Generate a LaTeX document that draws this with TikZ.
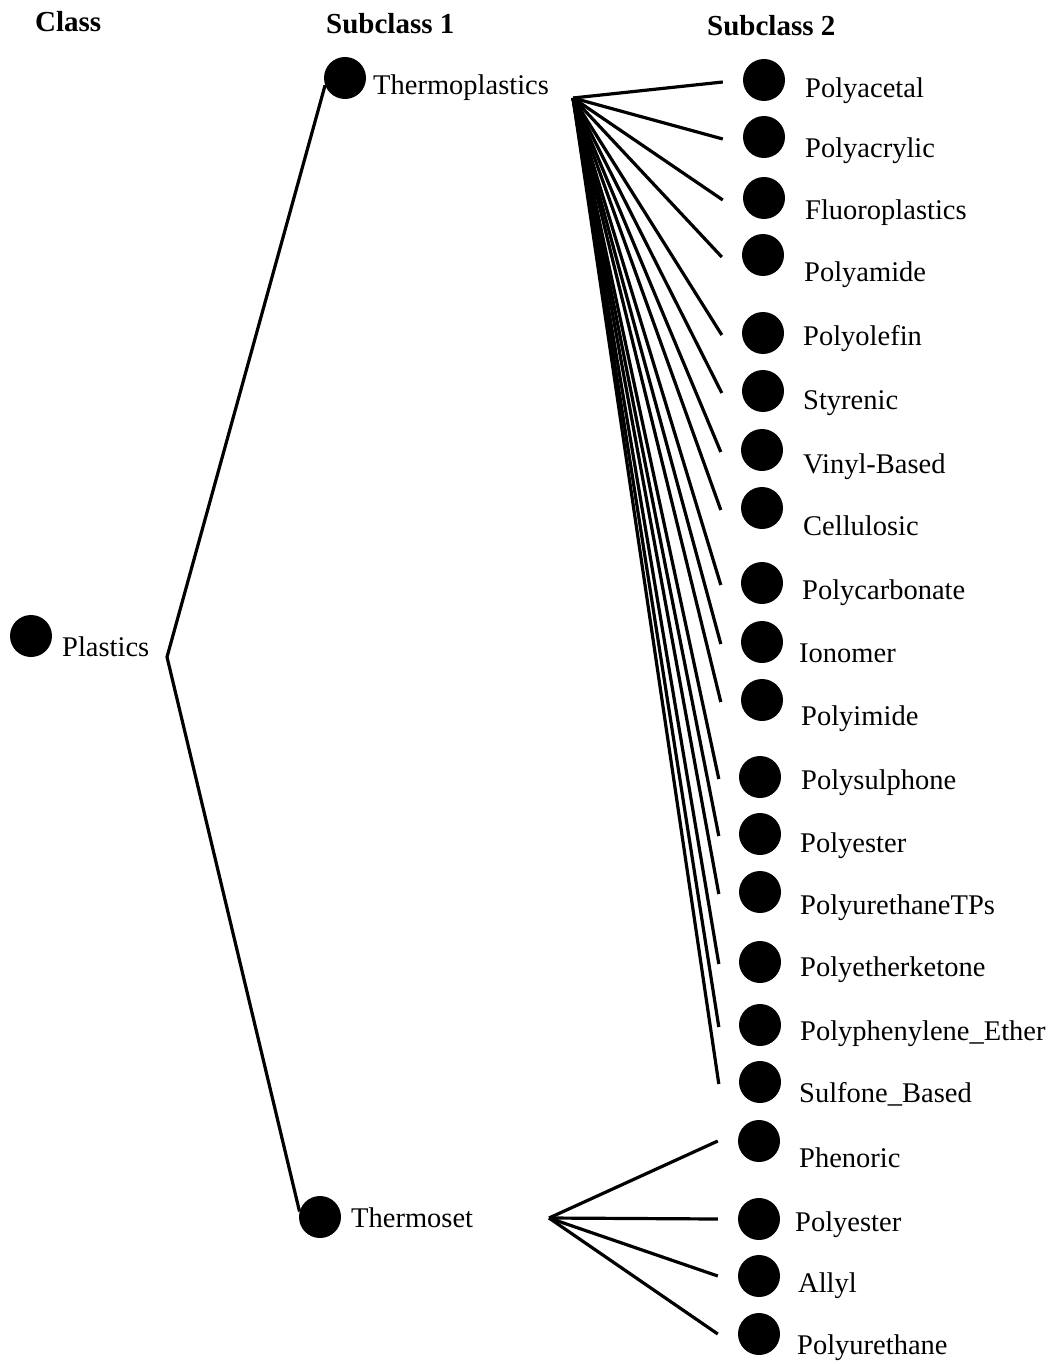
\documentclass[tikz,border=0pt]{standalone}
\usepackage{fontspec}
\setmainfont{Liberation Serif}
\usetikzlibrary{positioning,calc}

\tikzset{
  dot/.style={circle,fill=black,inner sep=0pt,minimum size=42pt},
  lbl/.style={anchor=base west,inner sep=0pt,font=\fontsize{28.5}{32}\selectfont},
  head/.style={anchor=base west,inner sep=0pt,font=\bfseries\fontsize{29}{32}\selectfont},
  link/.style={line width=3.2pt}
}

\begin{document}
\begin{tikzpicture}[x=1pt,y=-1pt]
  \useasboundingbox (0,0) rectangle (1057,1364);
  % headers
  \node[head] (hclass) at (35,32) {Class};
  \node[head] (hsub1) at (326,34) {Subclass 1};
  \node[head] (hsub2) at (707,36) {Subclass 2};
  % class and subclass 1
  \node[dot] (plastics) at (31,636) {};
  \node[lbl] (plasticslbl) at (62,656) {Plastics};
  \node[dot] (thermoplastics) at (345,78) {};
  \node[lbl] (thermoplasticslbl) at (373,95) {Thermoplastics};
  \node[dot] (thermoset) at (320,1217) {};
  \node[lbl] (thermosetlbl) at (351,1227) {Thermoset};
  \coordinate (pj) at (167,657);
  \coordinate (tp) at (573,98);
  \coordinate (ts) at (549,1218);
  \draw[link,line join=miter] (thermoplastics.200) -- (pj) -- (thermoset.165);
  % subclass 2
  \foreach \n/\x/\y/\lx/\ly/\t in {
      s1/764/80/805/88/Polyacetal,
      s2/764/137/805/148/Polyacrylic,
      s3/764/198/805/210/Fluoroplastics,
      s4/763/255/804/272/Polyamide,
      s5/763/333/803/336/Polyolefin,
      s6/763/391/803/400/Styrenic,
      s7/762/450/803/464/Vinyl-Based,
      s8/762/508/803/526/Cellulosic,
      s9/762/583/802/590/Polycarbonate,
      s10/762/642/799/653/Ionomer,
      s11/762/700/801/716/Polyimide,
      s12/760/777/801/780/Polysulphone,
      s13/760/834/800/843/Polyester,
      s14/760/892/800/905/PolyurethaneTPs,
      s15/760/962/800/967/Polyetherketone,
      s16/760/1025/800/1031/Polyphenylene\_Ether,
      s17/760/1082/799/1093/Sulfone\_Based,
      t1/759/1141/799/1158/Phenoric,
      t2/759/1219/795/1222/Polyester,
      t3/759/1276/798/1283/Allyl,
      t4/759/1334/797/1345/Polyurethane} {
    \node[dot] (\n) at (\x,\y) {};
    \node[lbl] (\n lbl) at (\lx,\ly+9.5) {\t};
  }
  \foreach \n in {s1,s2,s3,s4,s5,s6,s7,s8,s9,s10,s11,s12,s13,s14,s15,s16,s17}
    \draw[link] (tp) -- ([xshift=-20pt,yshift=-2pt]\n.west);
  \foreach \n in {t1,t2,t3,t4}
    \draw[link] (ts) -- ([xshift=-20pt]\n.west);
\end{tikzpicture}
\end{document}
